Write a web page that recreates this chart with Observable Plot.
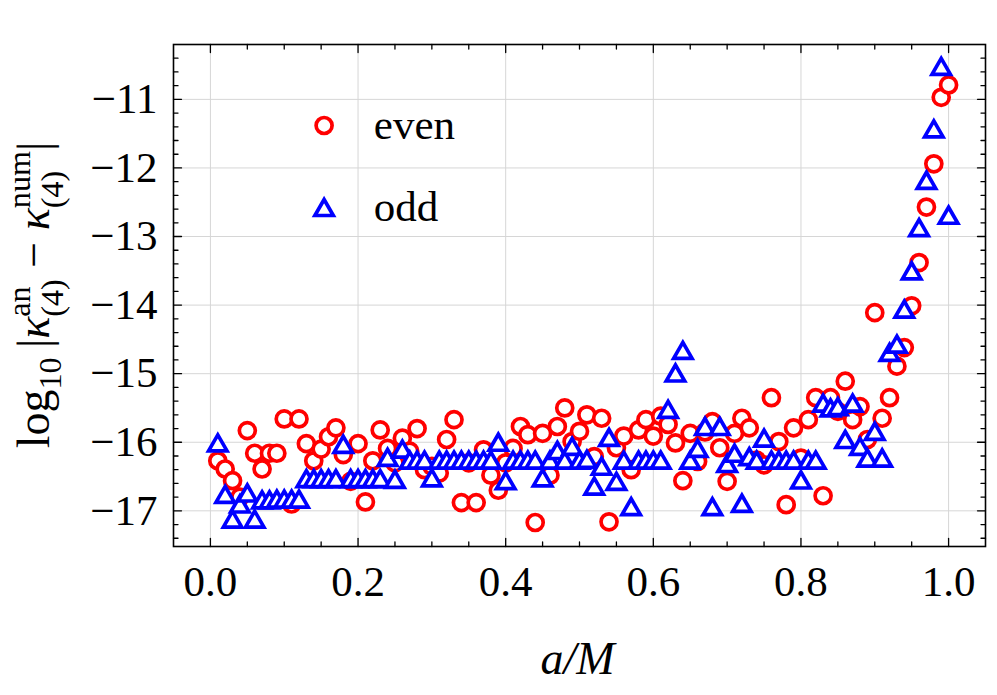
<!DOCTYPE html>
<html>
<head>
<meta charset="utf-8">
<script src="https://cdn.jsdelivr.net/npm/d3@7"></script>
<script src="https://cdn.jsdelivr.net/npm/@observablehq/plot@0.6"></script>
<style>
  html, body { margin: 0; padding: 0; background: #fff; }
</style>
</head>
<body>
<div id="chart"></div>
<script>
// ---- data -------------------------------------------------------------
const spin = [0.01,0.02,0.03,0.04,0.05,0.06,0.07,0.08,0.09,0.10,
              0.11,0.12,0.13,0.14,0.15,0.16,0.17,0.18,0.19,0.20,
              0.21,0.22,0.23,0.24,0.25,0.26,0.27,0.28,0.29,0.30,
              0.31,0.32,0.33,0.34,0.35,0.36,0.37,0.38,0.39,0.40,
              0.41,0.42,0.43,0.44,0.45,0.46,0.47,0.48,0.49,0.50,
              0.51,0.52,0.53,0.54,0.55,0.56,0.57,0.58,0.59,0.60,
              0.61,0.62,0.63,0.64,0.65,0.66,0.67,0.68,0.69,0.70,
              0.71,0.72,0.73,0.74,0.75,0.76,0.77,0.78,0.79,0.80,
              0.81,0.82,0.83,0.84,0.85,0.86,0.87,0.88,0.89,0.90,
              0.91,0.92,0.93,0.94,0.95,0.96,0.97,0.98,0.99,1.00];

const evenVals = [-16.27,-16.39,-16.56,-16.80,-15.83,-16.16,-16.39,-16.16,-16.16,-15.66,
                  -16.90,-15.66,-16.02,-16.27,-16.10,-15.92,-15.79,-16.18,-16.57,-16.02,
                  -16.87,-16.27,-15.82,-16.09,-16.30,-15.94,-16.13,-15.80,-16.40,-16.35,
                  -16.45,-15.96,-15.67,-16.88,-16.30,-16.88,-16.11,-16.48,-16.70,-16.30,
                  -16.09,-15.77,-15.89,-17.17,-15.87,-16.48,-15.77,-15.50,-15.99,-15.84,
                  -15.60,-16.21,-15.65,-17.16,-16.08,-15.91,-16.40,-15.82,-15.67,-15.91,
                  -15.62,-15.74,-16.01,-16.56,-15.87,-16.28,-15.85,-15.70,-16.08,-16.57,
                  -15.87,-15.65,-15.79,-16.26,-16.33,-15.35,-15.99,-16.91,-15.79,-16.23,
                  -15.67,-15.35,-16.78,-15.35,-15.55,-15.11,-15.67,-15.48,-15.96,-14.11,
                  -15.65,-15.35,-14.89,-14.62,-14.01,-13.38,-12.57,-11.94,-10.97,-10.79];

const oddVals = [-16.01,-16.76,-17.12,-16.90,-16.74,-17.12,-16.84,-16.84,-16.83,-16.83,
                 -16.83,-16.83,-16.53,-16.53,-16.53,-16.53,-16.53,-16.03,-16.53,-16.53,
                 -16.53,-16.53,-16.53,-16.22,-16.54,-16.10,-16.26,-16.26,-16.26,-16.52,
                 -16.26,-16.26,-16.26,-16.26,-16.26,-16.26,-16.26,-16.26,-16.00,-16.56,
                 -16.26,-16.26,-16.26,-16.26,-16.52,-16.26,-16.12,-16.26,-16.06,-16.26,
                 -16.25,-16.64,-16.35,-15.93,-16.57,-16.26,-16.94,-16.26,-16.26,-16.26,
                 -16.26,-15.52,-14.99,-14.66,-16.26,-16.09,-15.77,-16.94,-15.77,-16.31,
                 -16.16,-16.89,-16.21,-16.26,-15.94,-16.26,-16.26,-16.26,-16.26,-16.55,
                 -16.26,-16.26,-15.43,-15.50,-15.48,-15.96,-15.43,-16.06,-16.23,-15.84,
                 -16.23,-14.69,-14.57,-14.06,-13.50,-12.87,-12.18,-11.43,-10.52,-12.69];

const seriesNames = ["even", "odd"];
const xMajor = [0.0, 0.2, 0.4, 0.6, 0.8, 1.0];
const xMinor = [0.05,0.10,0.15,0.25,0.30,0.35,0.45,0.50,0.55,0.65,0.70,0.75,0.85,0.90,0.95];
const yMajor = [-17, -16, -15, -14, -13, -12, -11];
const yMinor = [-17.4,-17.2,-16.8,-16.6,-16.4,-16.2,-15.8,-15.6,-15.4,-15.2,
                -14.8,-14.6,-14.4,-14.2,-13.8,-13.6,-13.4,-13.2,-12.8,-12.6,
                -12.4,-12.2,-11.8,-11.6,-11.4,-11.2,-10.8,-10.6,-10.4];
const xLabel = "a/M";

// ---- build tables ------------------------------------------------------
const evenData = spin.map((a, i) => ({a, v: evenVals[i]}));
const oddData  = spin.map((a, i) => ({a, v: oddVals[i]}));

// ---- style -------------------------------------------------------------
const FONT = "'Liberation Serif', 'Times New Roman', 'DejaVu Serif', serif";
const RED = "#ff0000", BLUE = "#0000ff";
const W = 997, H = 695, ML = 173, MR = 12, MT = 44, MB = 149;
const R = 8.0, SW = 3.7;

const triangleUp = {
  draw(ctx, size) {
    const r = Math.sqrt(size / Math.PI);
    const hw = r * 1.15, hh = r;
    ctx.moveTo(0, -hh);
    ctx.lineTo(hw, hh);
    ctx.lineTo(-hw, hh);
    ctx.closePath();
  }
};
const tickShape = { draw(ctx, l) { ctx.moveTo(0, 0); ctx.lineTo(0, -l); } };

function ticks(values, ch, anchor, rotate, length) {
  return Plot.vector(values, {
    [ch]: d => d, frameAnchor: anchor, rotate, length, anchor: "start",
    shape: tickShape, stroke: "black", strokeWidth: 1.3
  });
}

const plot = Plot.plot({
  width: W, height: H,
  marginLeft: ML, marginRight: MR, marginTop: MT, marginBottom: MB,
  x: {domain: [-0.05, 1.05]},
  y: {domain: [-17.52, -10.2]},
  style: {fontFamily: FONT, fontSize: "43px", background: "white", color: "black"},
  marks: [
    Plot.gridX(xMajor, {stroke: "#d6d6d6", strokeOpacity: 1, strokeWidth: 1}),
    Plot.gridY(yMajor, {stroke: "#d6d6d6", strokeOpacity: 1, strokeWidth: 1}),
    Plot.dot(evenData, {x: "a", y: "v", r: R, stroke: RED, fill: "white", strokeWidth: SW}),
    Plot.dot(oddData, {x: "a", y: "v", r: R, symbol: triangleUp, stroke: BLUE, fill: "white",
                       strokeWidth: SW, strokeLinejoin: "miter"}),
    Plot.frame({stroke: "black", strokeWidth: 1.6}),
    ticks(xMajor, "x", "bottom", 0, 8),
    ticks(xMinor, "x", "bottom", 0, 4.5),
    ticks(xMajor, "x", "top", 180, 8),
    ticks(xMinor, "x", "top", 180, 4.5),
    ticks(yMajor, "y", "left", 90, 8),
    ticks(yMinor, "y", "left", 90, 4.5),
    ticks(yMajor, "y", "right", -90, 8),
    ticks(yMinor, "y", "right", -90, 4.5),
    Plot.axisX(xMajor, {tickSize: 0, tickPadding: 19, tickFormat: d3.format(".1f"), label: null}),
    Plot.axisY(yMajor, {tickSize: 0, tickPadding: 16, tickFormat: d3.format("d"), label: null}),
    Plot.text([xLabel], {frameAnchor: "bottom", dx: -2, dy: 113, fontStyle: "italic", fontSize: 46,
                         lineAnchor: "middle", letterSpacing: 4}),
    // legend
    Plot.dot([seriesNames[0]], {frameAnchor: "top-left", dx: 150.6, dy: 81, r: R,
                                stroke: RED, fill: "white", strokeWidth: SW}),
    Plot.dot([seriesNames[1]], {frameAnchor: "top-left", dx: 150.6, dy: 163, r: R, symbol: triangleUp,
                                stroke: BLUE, fill: "white", strokeWidth: SW, strokeLinejoin: "miter"}),
    Plot.text([seriesNames[0]], {frameAnchor: "top-left", dx: 200.3, dy: 81, textAnchor: "start", lineAnchor: "middle"}),
    Plot.text([seriesNames[1]], {frameAnchor: "top-left", dx: 200.3, dy: 163, textAnchor: "start", lineAnchor: "middle"})
  ]
});

document.getElementById("chart").append(plot);

// ---- y-axis label with stacked sub/superscripts --------------------------
(function addYLabel() {
  const fs = 46, small = 0.7 * fs;
  const supShift = -0.42 * fs, subShift = 0.30 * fs, logSub = 0.26 * fs;
  const t = d3.select(plot).append("text")
    .attr("transform", `translate(49,${(MT + (H - MB)) / 2}) rotate(-90)`)
    .attr("text-anchor", "middle")
    .attr("fill", "black")
    .style("font-family", FONT)
    .style("font-size", fs + "px");
  let cur = 0;
  function add(text, {size = fs, shift = 0, italic = false} = {}) {
    const ts = t.append("tspan").text(text)
      .style("font-size", size + "px")
      .attr("dy", (shift - cur).toFixed(2));
    if (italic) ts.style("font-style", "italic");
    cur = shift;
    return ts;
  }
  add("log");
  add("10", {size: small, shift: logSub});
  add("\u2009|");
  add("κ", {italic: true});
  const an = add("an", {size: small, shift: supShift});
  const s1 = add("(4)", {size: small, shift: subShift});
  const minus = add(" − ");
  add("κ", {italic: true});
  const num = add("num", {size: small, shift: supShift});
  const s2 = add("(4)", {size: small, shift: subShift});
  const bar = add("|");
  const wAn = an.node().getComputedTextLength();
  const wNum = num.node().getComputedTextLength();
  const wS1 = s1.node().getComputedTextLength();
  const wS2 = s2.node().getComputedTextLength();
  s1.attr("dx", (-wAn).toFixed(2));
  minus.attr("dx", Math.max(0, wAn - wS1).toFixed(2));
  s2.attr("dx", (-wNum).toFixed(2));
  bar.attr("dx", Math.max(0, wNum - wS2).toFixed(2));
})();
</script>
</body>
</html>
